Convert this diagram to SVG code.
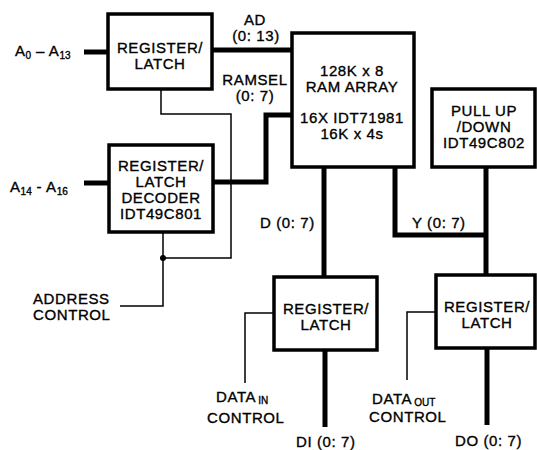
<svg xmlns="http://www.w3.org/2000/svg" width="537" height="450" viewBox="0 0 537 450">
<style>
.box{fill:#fff;stroke:#000;stroke-width:3.5}
.bus{fill:none;stroke:#000;stroke-width:5}
.ctl{fill:none;stroke:#000;stroke-width:1.5}
text{font-family:"Liberation Sans",Arial,sans-serif;font-size:15px;letter-spacing:0.6px;fill:#000;stroke:#000;stroke-width:0.35}
.c{text-anchor:middle}
.sub{font-size:10px;letter-spacing:0}
</style>
<rect width="537" height="450" fill="#fff"/>
<g id="connectors">
<path class="bus" d="M84 52H108"/>
<path class="bus" d="M84 183H109"/>
<path class="bus" d="M212 50H292"/>
<path class="bus" d="M213 182H266V115H292"/>
<path class="bus" d="M324 167V277"/>
<path class="bus" d="M325 350V427"/>
<path class="bus" d="M395 167V235H486"/>
<path class="bus" d="M486 167V275"/>
<path class="bus" d="M487 348V425"/>
<path class="ctl" d="M161 89V114H231V258H163"/>
<path class="ctl" d="M163 232V306H120"/>
<circle cx="163" cy="258" r="3"/>
<path class="ctl" d="M274 313H245V383"/>
<path class="ctl" d="M436 312H407V380"/>
</g>
<g id="reg1">
<rect class="box" x="108" y="14" width="104" height="75"/>
<text class="c" x="160" y="53">REGISTER/</text>
<text class="c" x="160" y="69">LATCH</text>
</g>
<g id="decoder">
<rect class="box" x="109" y="145" width="104" height="87"/>
<text class="c" x="161" y="171">REGISTER/</text>
<text class="c" x="161" y="187">LATCH</text>
<text class="c" x="161" y="203">DECODER</text>
<text class="c" x="161" y="219">IDT49C801</text>
</g>
<g id="ram">
<rect class="box" x="292" y="33" width="122" height="134"/>
<text class="c" x="352" y="76">128K x 8</text>
<text class="c" x="352" y="92">RAM ARRAY</text>
<text class="c" x="352" y="123">16X IDT71981</text>
<text class="c" x="352" y="139">16K x 4s</text>
</g>
<g id="pullup">
<rect class="box" x="432" y="89" width="103" height="78"/>
<text class="c" x="484" y="116">PULL UP</text>
<text class="c" x="484" y="132">/DOWN</text>
<text class="c" x="484" y="148">IDT49C802</text>
</g>
<g id="regin">
<rect class="box" x="274" y="277" width="103" height="73"/>
<text class="c" x="326" y="314">REGISTER/</text>
<text class="c" x="326" y="330">LATCH</text>
</g>
<g id="regout">
<rect class="box" x="436" y="275" width="99" height="73"/>
<text class="c" x="487" y="312">REGISTER/</text>
<text class="c" x="487" y="328">LATCH</text>
</g>
<g id="labels">
<text x="15" y="56">A<tspan class="sub" dy="3">0</tspan><tspan dy="-3"> – A</tspan><tspan class="sub" dy="3">13</tspan></text>
<text x="10" y="192">A<tspan class="sub" dy="3">14</tspan><tspan dy="-3"> - A</tspan><tspan class="sub" dy="3">16</tspan></text>
<text class="c" x="255" y="25">AD</text>
<text class="c" x="256" y="41">(0: 13)</text>
<text class="c" x="255" y="85">RAMSEL</text>
<text class="c" x="255" y="101">(0: 7)</text>
<text x="33" y="304">ADDRESS</text>
<text x="33" y="320">CONTROL</text>
<text x="260" y="228">D (0: 7)</text>
<text x="412" y="228">Y (0: 7)</text>
<text x="216" y="402">DATA<tspan class="sub" dx="2" dy="2">IN</tspan></text>
<text x="207" y="423">CONTROL</text>
<text x="372" y="404">DATA<tspan class="sub" dx="2" dy="2">OUT</tspan></text>
<text x="369" y="422">CONTROL</text>
<text x="296" y="447">DI (0: 7)</text>
<text x="455" y="446">DO (0: 7)</text>
</g>
</svg>
